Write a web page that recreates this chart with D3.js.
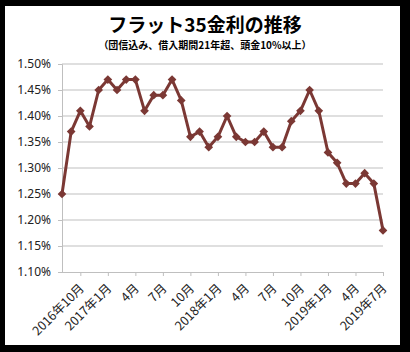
<!DOCTYPE html>
<html>
<head>
<meta charset="utf-8">
<script src="https://cdn.jsdelivr.net/npm/d3@7"></script>
<style>
  body { margin: 0; background: #000; }
  svg { display: block; }
</style>
</head>
<body>
<div id="chart"></div>
<script>
// monthly rates, Aug 2016 - Jul 2019
var months = ["2016-08","2016-09","2016-10","2016-11","2016-12",
              "2017-01","2017-02","2017-03","2017-04","2017-05","2017-06","2017-07","2017-08","2017-09","2017-10","2017-11","2017-12",
              "2018-01","2018-02","2018-03","2018-04","2018-05","2018-06","2018-07","2018-08","2018-09","2018-10","2018-11","2018-12",
              "2019-01","2019-02","2019-03","2019-04","2019-05","2019-06","2019-07"];
var rates = [1.25, 1.37, 1.41, 1.38, 1.45, 1.47, 1.45, 1.47, 1.47, 1.41, 1.44, 1.44,
             1.47, 1.43, 1.36, 1.37, 1.34, 1.36, 1.40, 1.36, 1.35, 1.35, 1.37, 1.34,
             1.34, 1.39, 1.41, 1.45, 1.41, 1.33, 1.31, 1.27, 1.27, 1.29, 1.27, 1.18];
var tickMonths = ["2016-10","2017-01","2017-04","2017-07","2017-10","2018-01",
                  "2018-04","2018-07","2018-10","2019-01","2019-04","2019-07"];
var tickLabels = ["2016年10月","2017年1月","4月","7月","10月","2018年1月",
                  "4月","7月","10月","2019年1月","4月","2019年7月"];
var yTicks = [1.10, 1.15, 1.20, 1.25, 1.30, 1.35, 1.40, 1.45, 1.50];

var W = 410, H = 352;
var lineColor = "#7b3834";
var gridColor = "#bfbfbf";

var svg = d3.select("#chart").append("svg")
    .attr("width", W)
    .attr("height", H);

// white panel inside the black frame
svg.append("rect")
    .attr("x", 5).attr("y", 6)
    .attr("width", 395).attr("height", 339)
    .attr("fill", "#fff");

var x = d3.scalePoint()
    .domain(months)
    .range([62, 383]);

var y = d3.scaleLinear()
    .domain([1.10, 1.50])
    .range([272, 64]);

// gridlines
svg.append("g")
    .selectAll("line")
    .data(yTicks.slice(1))
    .enter().append("line")
    .attr("x1", 62).attr("x2", 383)
    .attr("y1", d => y(d)).attr("y2", d => y(d))
    .attr("stroke", gridColor)
    .attr("stroke-width", 1);

// y axis
var yAxis = d3.axisLeft(y)
    .tickValues(yTicks)
    .tickSize(4)
    .tickPadding(7)
    .tickFormat(d => d.toFixed(2) + "%");

var gy = svg.append("g")
    .attr("transform", "translate(62,0)")
    .call(yAxis);
gy.select(".domain").attr("stroke", gridColor);
gy.selectAll(".tick line").attr("stroke", gridColor);
gy.selectAll("text")
    .attr("fill", "#222")
    .style("font-family", "'Noto Sans', sans-serif")
    .style("font-size", "12px");

// x axis
var xAxis = d3.axisBottom(x)
    .tickValues(tickMonths)
    .tickSize(4)
    .tickFormat((d, i) => tickLabels[i]);

var gx = svg.append("g")
    .attr("transform", "translate(0,272)")
    .call(xAxis);
gx.select(".domain").attr("stroke", gridColor).attr("d", "M62,0.5H383");
gx.selectAll(".tick line").attr("stroke", gridColor);
gx.selectAll("text")
    .attr("fill", "#222")
    .attr("y", 0)
    .attr("dy", "0.35em")
    .attr("text-anchor", "end")
    .attr("transform", "translate(1,14) rotate(-45)")
    .style("font-family", "'Noto Sans CJK JP', sans-serif")
    .style("font-size", "12.5px");

// line
var line = d3.line()
    .x((d, i) => x(months[i]))
    .y(d => y(d));

svg.append("path")
    .datum(rates)
    .attr("fill", "none")
    .attr("stroke", lineColor)
    .attr("stroke-width", 3)
    .attr("stroke-linejoin", "round")
    .attr("d", line);

// diamond markers
svg.append("g")
    .selectAll("path")
    .data(rates)
    .enter().append("path")
    .attr("transform", (d, i) => "translate(" + x(months[i]) + "," + y(d) + ")")
    .attr("d", d3.symbol().type(d3.symbolDiamond2).size(48))
    .attr("fill", lineColor);

// titles
svg.append("text")
    .attr("x", 205).attr("y", 32)
    .attr("text-anchor", "middle")
    .style("font-family", "'Noto Sans CJK JP', sans-serif")
    .style("font-weight", "bold")
    .style("font-size", "19px")
    .text("フラット35金利の推移");

svg.append("text")
    .attr("x", 205).attr("y", 49)
    .attr("text-anchor", "middle")
    .style("font-family", "'Noto Sans CJK JP', sans-serif")
    .style("font-weight", "bold")
    .style("font-size", "10px")
    .text("（団信込み、借入期間21年超、頭金10%以上）");
</script>
</body>
</html>
